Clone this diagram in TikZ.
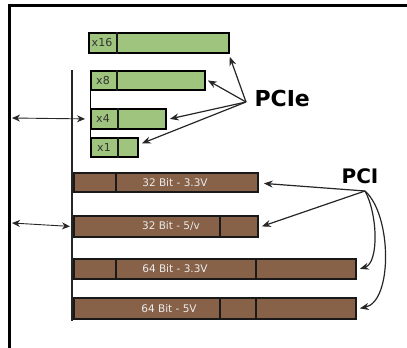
\documentclass[tikz,border=0pt]{standalone}
\usepackage{fontspec}
\setmainfont{DejaVu Sans}
\usetikzlibrary{arrows.meta}
\definecolor{slotgreen}{RGB}{158,196,126}
\definecolor{slotbrown}{RGB}{135,97,72}
\begin{document}
\begin{tikzpicture}[x=1pt,y=-1pt,
    pcie/.style={draw=black,line width=1.8pt,fill=slotgreen,inner sep=0pt,anchor=north west},
    pci/.style={draw=black!90,line width=1.8pt,fill=slotbrown,inner sep=0pt,anchor=north west},
    sep/.style={line width=1.6pt,draw=black!90},
    gtext/.style={font=\fontsize{11}{11}\selectfont,text=black!80},
    btext/.style={font=\fontsize{10.5}{10}\selectfont,text=black!8},
    link/.style={line width=1.2pt,draw=black!85,-{Stealth[length=9pt,width=7pt]}},
    both/.style={line width=0.9pt,draw=black!85,{Stealth[length=8pt,width=7pt]}-{Stealth[length=8pt,width=7pt]}}]
    \useasboundingbox (0,0) rectangle (407,348);
    \draw[line width=3pt] (9,348) -- (9,5) -- (407,5);
    \draw[line width=1.4pt,black!85] (72,70) -- (72,321);
        \node[pcie,minimum width=140pt,minimum height=20pt](x16) at (88,32){};
        \node[pcie,minimum width=114pt,minimum height=19pt](x8) at (90,70){};
        \node[pcie,minimum width=75pt,minimum height=20pt](x4) at (90,108){};
        \node[pcie,minimum width=47pt,minimum height=19pt](x1) at (90,137){};
        \draw[line width=1pt] (x8.north west) -- (x1.south west);
        \draw[sep] ([xshift=29pt]x16.north west) -- ([xshift=29pt]x16.south west);
        \draw[sep] ([xshift=27pt]x8.north west) -- ([xshift=27pt]x8.south west);
        \draw[sep] ([xshift=28pt]x4.north west) -- ([xshift=28pt]x4.south west);
        \draw[sep] ([xshift=28pt]x1.north west) -- ([xshift=28pt]x1.south west);
        \node[gtext] at ([xshift=14pt]x16.west){x16};
        \node[gtext] at ([xshift=13pt]x8.west){x8};
        \node[gtext] at ([xshift=13pt]x4.west){x4};
        \node[gtext] at ([xshift=14pt]x1.west){x1};
        \node[pci,minimum width=184pt,minimum height=19pt](s32a) at (73,172){};
        \node[pci,minimum width=184pt,minimum height=21pt](s32b) at (73,215){};
        \node[pci,minimum width=282pt,minimum height=20pt](s64a) at (73,258){};
        \node[pci,minimum width=282pt,minimum height=21pt](s64b) at (73,297){};
        \draw[sep] ([xshift=43pt]s32a.north west) -- ([xshift=43pt]s32a.south west);
        \draw[sep] ([xshift=147pt]s32b.north west) -- ([xshift=147pt]s32b.south west);
        \draw[sep] ([xshift=43pt]s64a.north west) -- ([xshift=43pt]s64a.south west);
        \draw[sep] ([xshift=183pt]s64a.north west) -- ([xshift=183pt]s64a.south west);
        \draw[sep] ([xshift=147pt]s64b.north west) -- ([xshift=147pt]s64b.south west);
        \draw[sep] ([xshift=183pt]s64b.north west) -- ([xshift=183pt]s64b.south west);
        \node[btext] at ([xshift=102pt]s32a.west){32 Bit - 3.3V};
        \node[btext] at ([xshift=98pt]s32b.west){32 Bit - 5/v};
        \node[btext] at ([xshift=102pt]s64a.west){64 Bit - 3.3V};
        \node[btext] at ([xshift=96pt]s64b.west){64 Bit - 5V};
        \node[font=\bfseries\fontsize{22}{22}\selectfont,anchor=west](pcielabel) at (251,98){PCIe};
        \node[font=\bfseries\fontsize{20}{20}\selectfont](pcilabel) at (360,176){PCI};
        \coordinate (pciesrc) at (246,102);
        \coordinate (pcisrc) at (365,191);
        \coordinate (busa) at (12,118);
        \coordinate (busb) at (12,223);
    \draw[link] (pciesrc) -- ([yshift=-3pt]x16.south east);
    \draw[link] (pciesrc) -- ([xshift=2pt]x8.east);
    \draw[link] (pciesrc) -- ([xshift=3pt]x4.east);
    \draw[link] (pciesrc) -- ([xshift=3pt,yshift=4pt]x1.east);
    \draw[link] (pcisrc) -- ([xshift=5pt,yshift=-1pt]s32a.east);
    \draw[link] (pcisrc) -- ([xshift=3pt]s32b.east);
    \draw[link] (pcisrc) .. controls +(13,24) and +(19,-6) .. ([xshift=3pt]s64a.east);
    \draw[link] (pcisrc) .. controls +(27,24) and +(33,-7) .. ([xshift=3pt]s64b.east);
    \draw[both] (busa) -- ([xshift=-5pt]x4.west);
    \draw[both] (busb) -- ([xshift=-3pt]s32b.west);
    \end{tikzpicture}
\end{document}
